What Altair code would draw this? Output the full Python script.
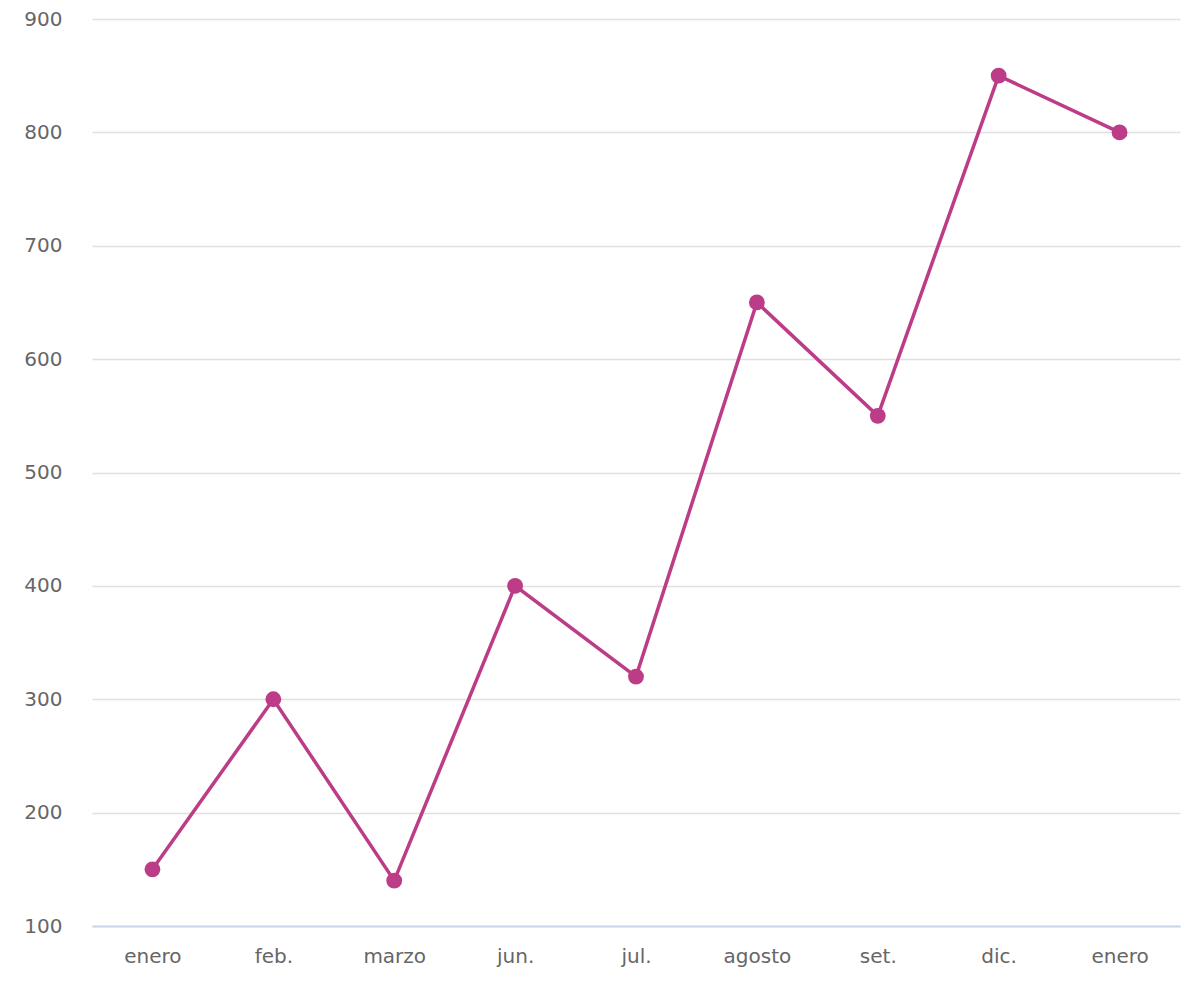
import pandas as pd
import altair as alt

months = ["enero", "feb.", "marzo", "jun.", "jul.", "agosto", "set.", "dic.", "enero"]
values = [150, 300, 140, 400, 320, 650, 550, 850, 800]

df = pd.DataFrame({"idx": list(range(len(months))), "month": months, "value": values})

label_expr = "[" + ",".join("'%s'" % m for m in months) + "][datum.value]"
color = "#bc3c87"

base = alt.Chart(df).encode(
    x=alt.X("idx:O", title=None,
            scale=alt.Scale(type="point", padding=0.5),
            axis=alt.Axis(labelExpr=label_expr, labelAngle=0, ticks=False,
                          domainColor="#ccd6eb", domainWidth=2, grid=False,
                          labelPadding=20, labelFontSize=20, labelColor="#666666",
                          labelFont="DejaVu Sans")),
    y=alt.Y("value:Q", title=None,
            scale=alt.Scale(domain=[100, 900], nice=False, zero=False),
            axis=alt.Axis(values=list(range(100, 901, 100)), ticks=False, domain=False,
                          gridColor="#e0e0e0", gridWidth=1.5, labelPadding=30,
                          labelFontSize=20, labelColor="#666666", labelFont="DejaVu Sans")),
)

line = base.mark_line(color=color, strokeWidth=3.5)
points = base.mark_circle(color=color, size=250, opacity=1)

chart = (line + points).properties(
    width=1088, height=907,
    autosize=alt.AutoSizeParams(type="none"),
    padding={"left": 84, "top": 11, "right": 4, "bottom": 60},
).configure_view(stroke=None)

chart.save("out.html", embed_options={"renderer": "svg", "actions": False})
